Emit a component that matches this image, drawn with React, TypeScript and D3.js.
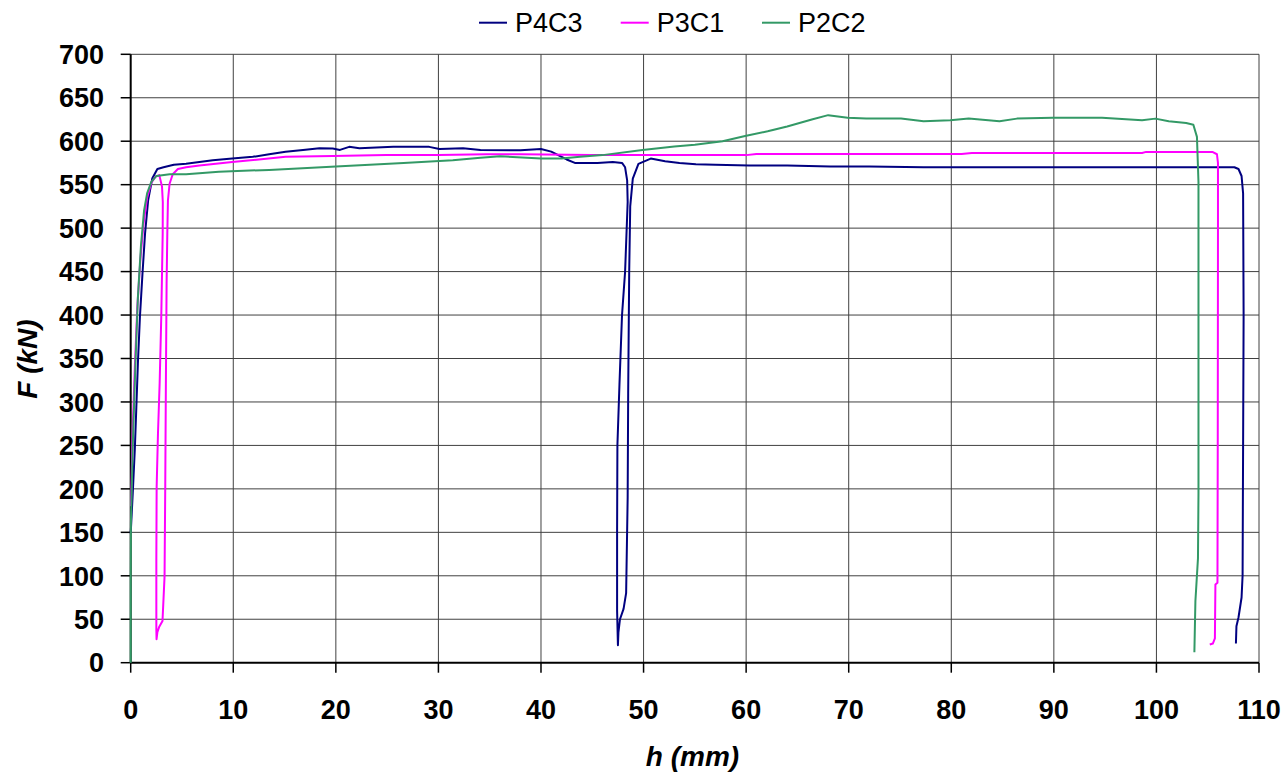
import React from 'react';
import * as d3 from 'd3';

// series data: h (mm) and F (kN)
const p4c3H = [0, 0.2, 0.4, 0.55, 0.7, 0.9, 1.15, 1.4, 1.7, 2.1, 2.6, 3.2, 4.2, 5.4, 6.7, 8, 9.9, 11.9, 13.5, 15.1, 16.8, 18.4, 19.7, 20.4, 21.3, 22.3, 25.6, 29.1, 30.1, 32.4, 34.1, 38, 40, 41, 42.5, 43.3, 45.5, 47, 47.9, 48.2, 48.4, 48.45, 48.2, 47.9, 47.65, 47.45, 47.42, 47.42, 47.5, 47.55, 47.7, 48.05, 48.3, 48.45, 48.5, 48.6, 48.7, 48.95, 49.5, 50.7, 52.1, 53.5, 55.1, 57, 60.3, 64, 68.2, 72, 77.3, 85, 95, 104, 107.6, 108.0, 108.3, 108.45, 108.5, 108.45, 108.4, 108.3, 108.0, 107.8, 107.75];
const p4c3F = [149, 195, 245, 294, 344, 398, 448, 494, 532, 557, 568, 570, 573, 574, 576, 578, 580, 582, 585, 588, 590, 592, 591.5, 590, 593.5, 592, 593.5, 593.5, 591, 592, 590, 589.5, 591, 588, 579, 575, 575, 576, 575, 570, 555, 530, 450, 400, 320, 250, 150, 60, 20, 35, 50, 62, 80, 190, 310, 450, 525, 557, 574, 580, 577, 575, 573.5, 573, 572, 572, 571, 571, 570, 570, 570, 570, 570, 568, 560, 540, 400, 250, 100, 75, 52, 42, 22];

const p3c1H = [0.03, 0.2, 0.4, 0.65, 0.95, 1.25, 1.6, 2.0, 2.4, 2.79, 3.05, 3.13, 3.12, 2.98, 2.82, 2.66, 2.53, 2.5, 2.5, 2.52, 2.6, 2.77, 3.1, 3.3, 3.37, 3.43, 3.5, 3.57, 3.63, 3.79, 4.1, 4.6, 5.4, 6.7, 9.9, 12.5, 15.1, 19.7, 24.9, 30, 34.7, 38, 45, 52, 60, 61, 70, 81, 82, 90, 98.6, 99, 104.5, 105.5, 105.9, 106.0, 106.0, 105.98, 105.95, 105.75, 105.7, 105.5, 105.2];
const p3c1F = [180, 270, 340, 410, 465, 505, 535, 552, 559, 561, 548, 530, 494, 398, 321, 264, 202, 120, 38, 27, 35, 41, 48, 99, 206, 321, 436, 494, 532, 551, 562, 568, 570, 572, 576, 579, 582, 583, 584, 584, 585, 585, 584, 584, 584, 585.4, 585.4, 585.4, 586.5, 586.5, 586.5, 587.7, 587.7, 587.5, 585, 575, 500, 260, 92, 90, 28, 22, 21];

const p2c2H = [0, 0, 0.02, 0.2, 0.45, 0.7, 1.0, 1.3, 1.6, 2.0, 2.5, 3.8, 5.4, 8.6, 13.5, 20, 26.6, 31.4, 34.1, 36, 40, 42, 43.8, 46, 49.9, 53, 55, 57.7, 59.9, 62.1, 64, 66.4, 68, 69.9, 71.7, 75.1, 77.3, 79.9, 81.7, 84.7, 86.4, 89.9, 94.7, 98.6, 99.9, 101.2, 102.9, 103.6, 103.95, 104.1, 104.1, 104.05, 103.8, 103.7];
const p2c2F = [0, 100, 160, 250, 340, 420, 480, 520, 540, 553, 560, 562, 562, 565, 567, 571, 575, 578, 581, 582.7, 580, 580, 582, 584, 590, 594, 596, 600, 606, 611.5, 617, 625, 630, 627, 626, 626, 623, 624, 626, 623, 626, 627, 627, 624, 626, 623, 621, 619, 605, 553, 194, 120, 71, 12];

const seriesNames = ['P4C3', 'P3C1', 'P2C2'];
const seriesColors = ['#000080', '#FF00FF', '#339966'];
const xTicks = d3.range(0, 111, 10);
const yTicks = d3.range(0, 701, 50);

const W = 1287, H = 775;
const left = 130.7, right = 1259, top = 54.3, bottom = 662.7;
const font = 'Liberation Sans, Arial, sans-serif';

export default function App() {
  const x = d3.scaleLinear().domain([0, 110]).range([left, right]);
  const y = d3.scaleLinear().domain([0, 700]).range([bottom, top]);
  const line = d3.line<[number, number]>().x(d => x(d[0])).y(d => y(d[1]));

  const series = [
    { name: seriesNames[0], color: seriesColors[0], pts: p4c3H.map((h, i) => [h, p4c3F[i]] as [number, number]) },
    { name: seriesNames[1], color: seriesColors[1], pts: p3c1H.map((h, i) => [h, p3c1F[i]] as [number, number]) },
    { name: seriesNames[2], color: seriesColors[2], pts: p2c2H.map((h, i) => [h, p2c2F[i]] as [number, number]) },
  ];

  const legendX = [479, 620.7, 762];

  return (
    <svg width={W} height={H} style={{ position: 'absolute', left: 0, top: 0, background: '#fff' }} fontFamily={font}>
      {/* grid */}
      {yTicks.filter(t => t > 0).map(t => (
        <line key={'gy' + t} x1={left} x2={right} y1={y(t)} y2={y(t)} stroke="#404040" strokeWidth={1} />
      ))}
      {xTicks.filter(t => t > 0).map(t => (
        <line key={'gx' + t} x1={x(t)} x2={x(t)} y1={top} y2={bottom} stroke="#404040" strokeWidth={1} />
      ))}
      {/* axes */}
      <line x1={left} x2={left} y1={top} y2={bottom} stroke="#000" strokeWidth={2} />
      <line x1={left} x2={right} y1={bottom} y2={bottom} stroke="#000" strokeWidth={2} />
      {yTicks.map(t => (
        <line key={'ty' + t} x1={left - 10} x2={left} y1={y(t)} y2={y(t)} stroke="#000" strokeWidth={1.5} />
      ))}
      {xTicks.map(t => (
        <line key={'tx' + t} x1={x(t)} x2={x(t)} y1={bottom} y2={bottom + 10} stroke="#000" strokeWidth={1.5} />
      ))}
      {yTicks.map(t => (
        <text key={'ly' + t} x={104} y={y(t)} dy="0.36em" textAnchor="end" fontSize={27} fontWeight="bold">{t}</text>
      ))}
      {xTicks.map(t => (
        <text key={'lx' + t} x={x(t)} y={719} textAnchor="middle" fontSize={27} fontWeight="bold">{t}</text>
      ))}
      {/* series */}
      {series.map(s => (
        <path key={s.name} d={line(s.pts) || ''} fill="none" stroke={s.color} strokeWidth={2} strokeLinejoin="round" />
      ))}
      {/* axis titles */}
      <text x={692.5} y={766} textAnchor="middle" fontSize={28} fontWeight="bold" fontStyle="italic">h (mm)</text>
      <text transform="translate(37,359) rotate(-90)" textAnchor="middle" fontSize={28} fontWeight="bold" fontStyle="italic">F (kN)</text>
      {/* legend */}
      {series.map((s, i) => (
        <g key={'lg' + s.name}>
          <line x1={legendX[i]} x2={legendX[i] + 28} y1={22.7} y2={22.7} stroke={s.color} strokeWidth={2} />
          <text x={legendX[i] + 36} y={31.7} fontSize={27}>{s.name}</text>
        </g>
      ))}
    </svg>
  );
}
